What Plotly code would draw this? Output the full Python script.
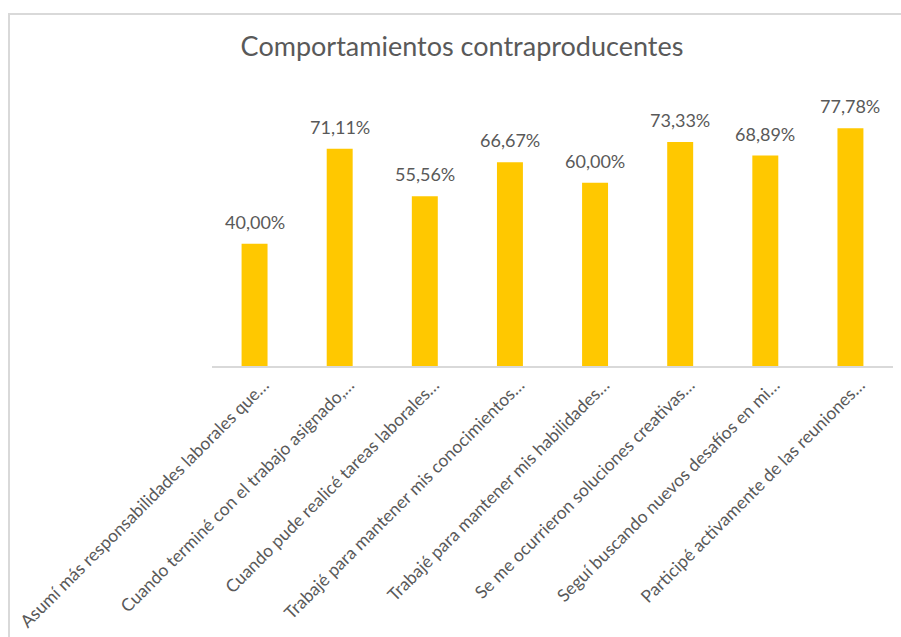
import plotly.graph_objects as go

categories = [
    "Asumí más responsabilidades laborales que…",
    "Cuando terminé con el trabajo asignado,…",
    "Cuando pude realicé tareas laborales…",
    "Trabajé para mantener mis conocimientos…",
    "Trabajé para mantener mis habilidades…",
    "Se me ocurrieron soluciones creativas…",
    "Seguí buscando nuevos desafíos en mi…",
    "Participé activamente de las reuniones…",
]
values = [0.4000, 0.7111, 0.5556, 0.6667, 0.6000, 0.7333, 0.6889, 0.7778]
labels = ["40,00%", "71,11%", "55,56%", "66,67%", "60,00%", "73,33%", "68,89%", "77,78%"]
title = "Comportamientos contraproducentes"

GRAY = "#595959"
FONT = "Lato"

xpos = list(range(len(categories)))
label_offset = 0.11  # Excel places rotated labels slightly right of the bar centre

fig = go.Figure()
fig.add_trace(go.Bar(
    x=xpos, y=values,
    marker=dict(color="#FFC800", line=dict(width=0)),
    width=0.305,
    hoverinfo="skip",
))

for xp, v, t in zip(xpos, values, labels):
    fig.add_annotation(x=xp, y=v, text=t, showarrow=False, xanchor="center",
                       yanchor="bottom", yshift=9,
                       font=dict(family=FONT, size=18, color=GRAY))

W, H = 901, 637
L, R, T, B = 212, 8, 91, 271
pw, ph = W - L - R, H - T - B

def px_x(p):
    return (p - L) / pw

def px_y(p):
    return (H - B - p) / ph

# chart area border (left and top visible)
fig.add_shape(type="rect", xref="paper", yref="paper",
              x0=px_x(9), x1=px_x(W + 20), y0=px_y(H + 20), y1=px_y(14),
              line=dict(color="#D9D9D9", width=2), fillcolor="rgba(0,0,0,0)",
              layer="below")

fig.update_layout(
    width=W, height=H,
    margin=dict(l=L, r=R, t=T, b=B, autoexpand=False),
    paper_bgcolor="white", plot_bgcolor="white",
    showlegend=False,
    title=dict(text=title, x=px_x(462), xanchor="center", y=(H - 47) / H,
               yanchor="middle", xref="paper", yref="container",
               font=dict(family=FONT, size=27, color=GRAY)),
    xaxis=dict(
        range=[-0.5, len(categories) - 0.5],
        tickmode="array", tickvals=[p + label_offset for p in xpos], ticktext=categories,
        tickangle=-45, showline=True, linecolor="#D9D9D9", linewidth=2,
        ticks="", showgrid=False, automargin=False, zeroline=False,
        tickfont=dict(family=FONT, size=17.5, color=GRAY),
    ),
    yaxis=dict(range=[0, 0.9], visible=False, showgrid=False, zeroline=False),
)

fig.write_html("out.html")
